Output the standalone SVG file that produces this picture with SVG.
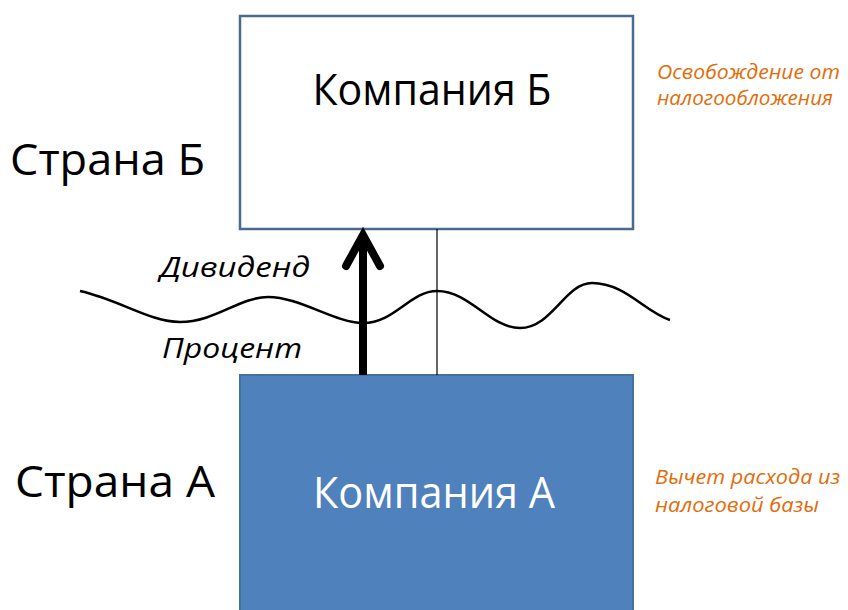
<svg xmlns="http://www.w3.org/2000/svg" width="848" height="610" viewBox="0 0 848 610">
<style>
.lbl{font-family:"Open Sans","Liberation Sans",sans-serif;fill:#000}
.big{font-size:43px}
.it{font-family:"Open Sans","Liberation Sans",sans-serif;font-style:italic;font-size:28px;fill:#000}
.note{font-family:"Open Sans","Liberation Sans",sans-serif;font-style:italic;font-size:20.5px;fill:#E36C09}
</style>
<rect width="848" height="610" fill="#fff"/>
<g id="countryB"><text class="lbl big" x="10" y="175" textLength="195" lengthAdjust="spacingAndGlyphs">Страна Б</text></g>
<g id="countryA"><text class="lbl big" x="15" y="497" textLength="200" lengthAdjust="spacingAndGlyphs">Страна А</text></g>
<g id="companyB">
<rect x="240" y="16" width="393" height="213" fill="#fff" stroke="#4A6A92" stroke-width="2.5"/>
<text class="lbl big" x="432" y="105" text-anchor="middle" textLength="239" lengthAdjust="spacingAndGlyphs">Компания Б</text>
</g>
<g id="companyA">
<rect x="240" y="375" width="393" height="245" fill="#4F81BD" stroke="#41719C" stroke-width="2"/>
<text class="lbl big" x="434" y="508" text-anchor="middle" style="fill:#fff" textLength="242" lengthAdjust="spacingAndGlyphs">Компания А</text>
</g>
<g id="notes">
<text class="note" x="657" y="79" textLength="183" lengthAdjust="spacingAndGlyphs">Освобождение от</text>
<text class="note" x="657" y="105" textLength="176" lengthAdjust="spacingAndGlyphs">налогообложения</text>
<text class="note" x="655" y="484" textLength="185" lengthAdjust="spacingAndGlyphs">Вычет расхода из</text>
<text class="note" x="655" y="512" textLength="164" lengthAdjust="spacingAndGlyphs">налоговой базы</text>
</g>
<g id="labels">
<text class="it" x="160" y="277" textLength="150" lengthAdjust="spacingAndGlyphs">Дивиденд</text>
<text class="it" x="162" y="358" textLength="140" lengthAdjust="spacingAndGlyphs">Процент</text>
</g>
<g id="connectors" fill="none" stroke="#000">
<path d="M80,291 C120,300 150,322 180,322 C215,322 240,297 268,297 C300,297 335,323 363,323 C395,323 410,291 437,291 C470,291 490,328 520,328 C552,328 565,283 592,283 C625,283 645,312 670,320" stroke-width="2.5"/>
<line x1="437" y1="229" x2="437" y2="375" stroke-width="1.2"/>
<line x1="363" y1="375" x2="363" y2="238" stroke-width="8"/>
<polyline points="346,266 363,235 380,266" stroke-width="8" stroke-linecap="round" stroke-linejoin="miter"/>
</g>
</svg>
